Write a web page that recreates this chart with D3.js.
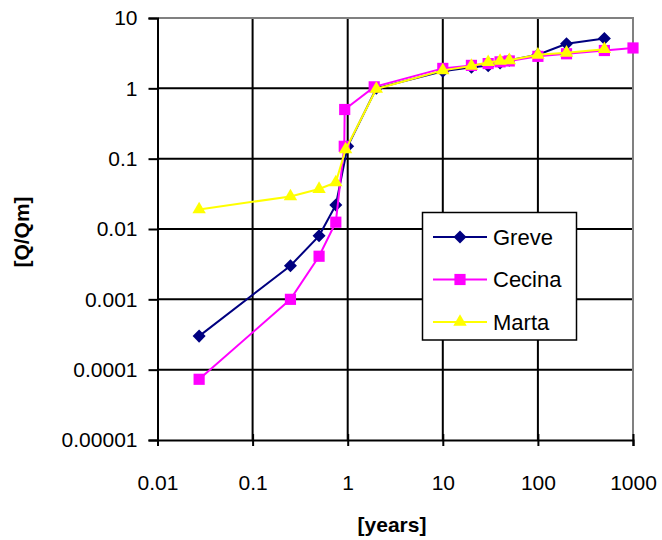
<!DOCTYPE html>
<html>
<head>
  <meta charset="utf-8">
  <script src="https://d3js.org/d3.v7.min.js"></script>
  <style>
    body { margin: 0; background: #fff; }
    text { font-family: "Liberation Sans", Arial, sans-serif; }
  </style>
</head>
<body>
<script>
  var w = 662, h = 540;

  // tick values / labels
  var xTicks = [0.01, 0.1, 1, 10, 100, 1000];
  var xTickLabels = ["0.01", "0.1", "1", "10", "100", "1000"];
  var yTicks = [0.00001, 0.0001, 0.001, 0.01, 0.1, 1, 10];
  var yTickLabels = ["0.00001", "0.0001", "0.001", "0.01", "0.1", "1", "10"];

  // series
  var greveX  = [0.0274, 0.25, 0.5, 0.75, 1, 2, 10, 20, 30, 40, 50, 100, 200, 500];
  var greveY  = [0.0003, 0.003, 0.008, 0.022, 0.15, 1.0, 1.75, 2.0, 2.1, 2.3, 2.5, 3.0, 4.3, 5.1];
  var cecinaX = [0.0274, 0.25, 0.5, 0.75, 0.92, 0.93, 1.9, 10, 20, 30, 40, 50, 100, 200, 500, 1000];
  var cecinaY = [0.000073, 0.001, 0.0041, 0.0125, 0.15, 0.5, 1.05, 1.92, 2.12, 2.25, 2.38, 2.45, 2.85, 3.1, 3.45, 3.75];
  var martaX  = [0.0274, 0.25, 0.5, 0.75, 0.95, 2, 10, 20, 30, 40, 50, 100, 200, 500];
  var martaY  = [0.019, 0.029, 0.037, 0.046, 0.135, 0.98, 1.8, 2.08, 2.35, 2.45, 2.5, 3.0, 3.2, 3.6];

  var series = [
    {name: "Greve",  xs: greveX,  ys: greveY,  color: "#000080", sym: d3.symbolSquare,   size: 85, rot: 45},
    {name: "Cecina", xs: cecinaX, ys: cecinaY, color: "#FF00FF", sym: d3.symbolSquare,   size: 125, rot: 0},
    {name: "Marta",  xs: martaX,  ys: martaY,  color: "#FFFF00", sym: d3.symbolTriangle, size: 78, rot: 0}
  ];

  var x = d3.scaleLog().domain([0.01, 1000]).range([157.5, 633]);
  var y = d3.scaleLog().domain([0.00001, 10]).range([440, 18]);

  var svg = d3.select("body").append("svg").attr("width", w).attr("height", h);

  // grid
  svg.append("g").selectAll("line").data(xTicks.slice(1, -1)).enter().append("line")
    .attr("x1", function(d){ return x(d); }).attr("x2", function(d){ return x(d); })
    .attr("y1", 18).attr("y2", 440)
    .attr("stroke", "#000").attr("stroke-width", 2);
  svg.append("g").selectAll("line").data(yTicks.slice(1, -1)).enter().append("line")
    .attr("x1", 157.5).attr("x2", 633)
    .attr("y1", function(d){ return y(d); }).attr("y2", function(d){ return y(d); })
    .attr("stroke", "#000").attr("stroke-width", 2);

  // top + right border (gray)
  svg.append("path")
    .attr("d", "M157.5,18H633V440")
    .attr("fill", "none").attr("stroke", "#808080").attr("stroke-width", 2);

  // axes
  var yAxis = d3.axisLeft(y).tickValues(yTicks)
    .tickFormat(function(d, i){ return yTickLabels[i]; })
    .tickSize(9).tickPadding(11);
  var gy = svg.append("g").attr("transform", "translate(157.5,0)").call(yAxis);

  var xAxis = d3.axisBottom(x).tickValues(xTicks)
    .tickFormat(function(d, i){ return xTickLabels[i]; })
    .tickSize(6).tickPadding(29);
  var gx = svg.append("g").attr("transform", "translate(0,440)").call(xAxis);

  [gx, gy].forEach(function(g){
    g.select(".domain").attr("stroke", "#000").attr("stroke-width", 2);
    g.selectAll(".tick line").attr("stroke", "#000").attr("stroke-width", 2);
    g.selectAll(".tick text").attr("font-size", 21).attr("fill", "#000")
      .attr("font-family", "Liberation Sans, Arial, sans-serif");
  });
  // cross ticks above the x axis
  gx.selectAll(".tick").append("line").attr("y1", 0).attr("y2", -6)
    .attr("stroke", "#000").attr("stroke-width", 2);

  function marker(sel, s) {
    sel.attr("d", d3.symbol().type(s.sym).size(s.size)).attr("fill", s.color);
  }

  // series lines + markers
  var line = d3.line().x(function(d){ return x(d[0]); }).y(function(d){ return y(d[1]); });
  series.forEach(function(s){
    var pts = s.xs.map(function(v, i){ return [v, s.ys[i]]; });
    svg.append("path").datum(pts).attr("d", line)
      .attr("fill", "none").attr("stroke", s.color).attr("stroke-width", 2);
    svg.append("g").selectAll("path").data(pts).enter().append("path")
      .call(marker, s)
      .attr("transform", function(d){
        return "translate(" + x(d[0]) + "," + y(d[1]) + ") rotate(" + s.rot + ")";
      });
  });

  // legend
  var lg = svg.append("g");
  lg.append("rect").attr("x", 422.5).attr("y", 212.5).attr("width", 154).attr("height", 127.5)
    .attr("fill", "#fff").attr("stroke", "#000").attr("stroke-width", 1.5);
  series.forEach(function(s, i){
    var ly = 237 + i * 42.5;
    lg.append("line").attr("x1", 433).attr("x2", 487).attr("y1", ly).attr("y2", ly)
      .attr("stroke", s.color).attr("stroke-width", 2);
    lg.append("path").call(marker, s)
      .attr("transform", "translate(460," + ly + ") rotate(" + s.rot + ")");
    lg.append("text").attr("x", 493).attr("y", ly).attr("dy", "0.36em")
      .attr("font-size", 22).text(s.name);
  });

  // axis titles
  svg.append("text").attr("x", 392).attr("y", 532).attr("text-anchor", "middle")
    .attr("font-size", 21).attr("font-weight", "bold").text("[years]");
  svg.append("text").attr("transform", "translate(29,232) rotate(-90)")
    .attr("text-anchor", "middle").attr("font-size", 21).attr("font-weight", "bold")
    .text("[Q/Qm]");
</script>
</body>
</html>
